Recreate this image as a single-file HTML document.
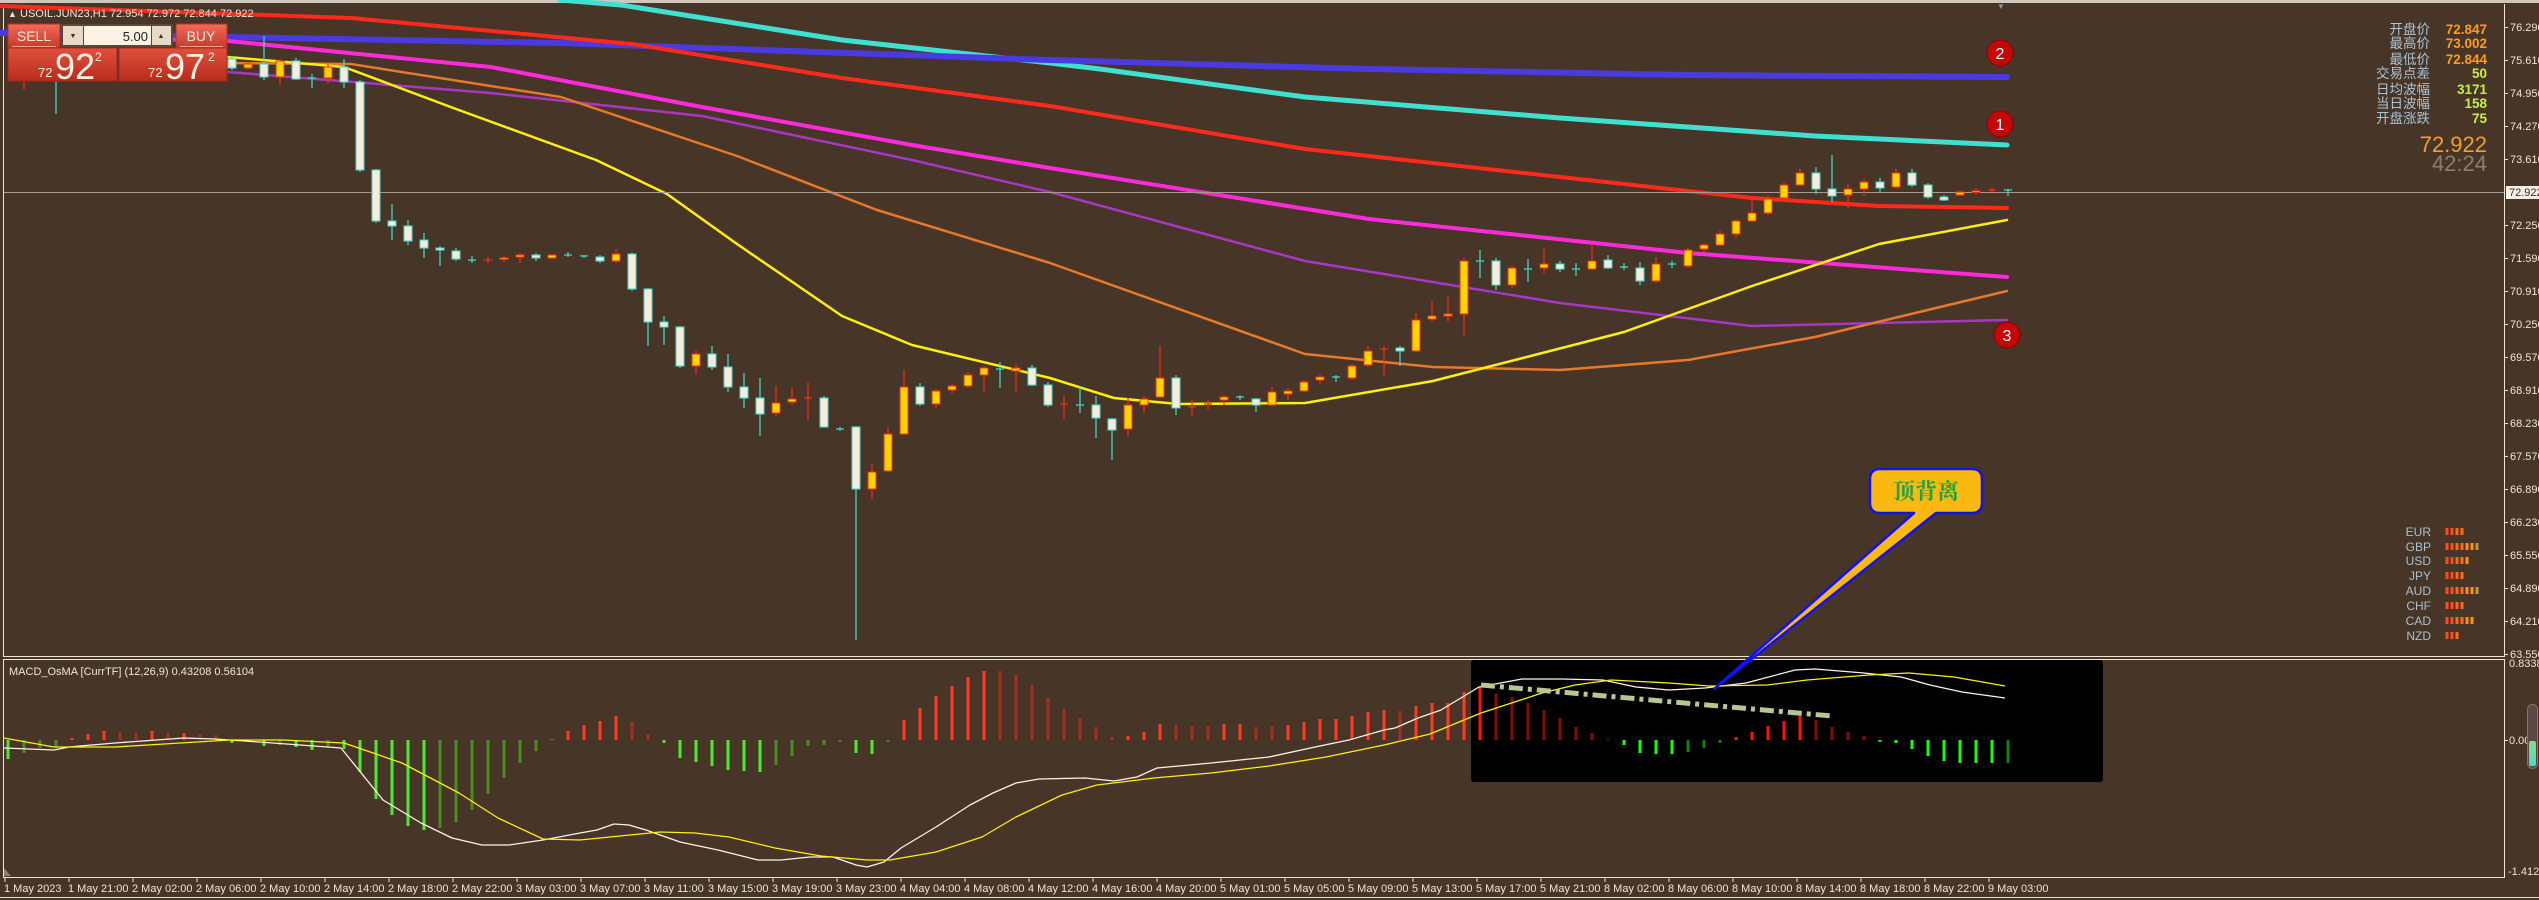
<!DOCTYPE html>
<html><head><meta charset="utf-8"><style>
html,body{margin:0;padding:0;background:#473528;}
svg{display:block;}
text{font-family:"Liberation Sans","Noto Sans CJK SC",sans-serif;}
.ax{font-size:11px;fill:#efe5da;}
.bu rect{fill:#ffd700;stroke:#ff2a10;stroke-width:1}
.be rect{fill:#fbe9dd;stroke:#3ee0d0;stroke-width:1}
</style></head><body>
<svg width="2539" height="900" viewBox="0 0 2539 900" xmlns="http://www.w3.org/2000/svg">
<rect width="2539" height="900" fill="#473528"/>
<rect x="0" y="0" width="2539" height="3" fill="#cfc6bc"/>
<!-- frames -->
<g fill="none" stroke="#f0e4d6" stroke-width="1">
<path d="M3.5 4V656.5H2504.5V4"/>
<path d="M3.5 659.5H2504.5V877.5H3.5Z"/>
</g>
<path d="M0 897.5H2539" stroke="#e8dccf" stroke-width="1"/>
<!-- MA lines -->
<g fill="none" stroke-linejoin="round" stroke-linecap="round">
<polyline stroke="#40e0d0" stroke-width="5" points="560,0 621,5 842,40 1050,63 1100,69 1305,97 1560,118 1815,136 2007,145"/>
<polyline stroke="#4a3ae0" stroke-width="6" points="0,33 228,37 561,43 1050,60 1369,69 1688,75 2007,77"/>
<polyline stroke="#ff2a1a" stroke-width="4" points="0,6 351,18 632,44 842,78 1050,106 1305,149 1560,177 1752,198 1879,206 2007,208"/>
<polyline stroke="#ff2ad8" stroke-width="4" points="100,38 228,41 491,67 702,107 912,145 1050,168 1369,219 1688,253 2007,277"/>
<polyline stroke="#a838c0" stroke-width="2.5" points="200,70 228,72 491,93 702,116 912,160 1050,192 1305,261 1560,303 1752,326 2007,320"/>
<polyline stroke="#e8782a" stroke-width="2.5" points="200,62 228,63 351,64 561,97 737,156 877,210 1050,263 1305,354 1433,367 1560,370 1688,360 1815,337 2007,291"/>
<polyline stroke="#ffee10" stroke-width="2.5" points="200,56 228,57 344,67 456,109 596,160 667,194 737,244 842,316 912,345 1050,378 1114,398 1178,404 1305,403 1433,381 1624,332 1752,286 1879,244 2007,220"/>
</g>
<path d="M4 192.5H2504" stroke="#a89a8e" stroke-width="1"/>
<!-- wicks -->
<path stroke="#ff2a10" stroke-width="1.2" fill="none" d="M24 80V90M248 62V70M280 59V85M328 64V84M504 255V262M520 253V263M552 254V259M616 249V263M696 350V374M776 386V417M792 388V405M872 463V499M888 427V472M904 370V435M936 389V409M952 384V394M968 372V388M984 366V393M1016 364V391M1128 398V436M1144 396V413M1160 346V398M1224 395V405M1272 387V406M1288 388V400M1304 380V392M1320 374V384M1352 364V380M1368 346V367M1416 313V352M1432 301V322M1448 297V322M1464 258V335M1512 266V288M1544 248V274M1592 243V270M1656 257V283M1688 248V268M1704 243V252M1720 230V246M1736 219V238M1752 200V222M1768 195V215M1784 182V199M1800 169V186M1848 184V208M1864 179V196M1896 169V189M1960 190V196M1976 188V194
M488 257V263M808 382V420M1064 396V419M1192 400V417M1208 399V410M1384 346V375M1992 187V194
M484 260H492M804 398H812M1060 404H1068M1188 407H1196M1204 404H1212M1380 349H1388M1988 190H1996"/>
<path stroke="#3ee0d0" stroke-width="1.2" fill="none" d="M56 80V114M232 56V70M264 36V80M296 58V80M344 59V88M360 80V172M376 169V223M392 204V240M408 220V245M424 233V258M440 246V266M456 248V261M536 253V261M600 255V263M632 253V291M648 288V346M664 316V345M680 326V368M712 346V370M728 354V392M744 373V408M760 378V436M824 396V428M856 426V640M920 383V406M1032 365V386M1048 382V407M1096 396V438M1112 418V460M1176 375V415M1256 398V412M1400 346V366M1496 258V290M1560 261V272M1608 255V269M1640 262V285M1816 167V194M1832 155V202M1880 178V192M1912 169V187M1928 183V199M1944 195V201
M312 74V88M472 256V263M568 252V257M584 255V258M840 427V431M1000 362V388M1080 386V413M1240 395V400M1336 375V382M1480 250V278M1528 259V282M1576 263V276M1624 263V270M1672 261V268M2008 189V196
M308 78H316M468 260H476M564 255H572M580 256H588M836 429H844M996 369H1004M1076 405H1084M1236 397H1244M1332 377H1340M1476 261H1484M1524 269H1532M1572 269H1580M1620 267H1628M1668 264H1676M2004 190H2012"/>
<g class="bu">
<rect x="244" y="64" width="8" height="4"/><rect x="276" y="61" width="8" height="16"/><rect x="324" y="67" width="8" height="11"/><rect x="500" y="258" width="8" height="1.5"/><rect x="516" y="255" width="8" height="2"/><rect x="548" y="255" width="8" height="3"/><rect x="612" y="254" width="8" height="7"/><rect x="692" y="354" width="8" height="12"/><rect x="772" y="403" width="8" height="10"/><rect x="788" y="399" width="8" height="3"/><rect x="868" y="472" width="8" height="17"/><rect x="884" y="434" width="8" height="37"/><rect x="900" y="387" width="8" height="47"/><rect x="932" y="391" width="8" height="13"/><rect x="948" y="386" width="8" height="4"/><rect x="964" y="375" width="8" height="11"/><rect x="980" y="368" width="8" height="7"/><rect x="1012" y="368" width="8" height="3"/><rect x="1124" y="405" width="8" height="24"/><rect x="1140" y="399" width="8" height="6"/><rect x="1156" y="378" width="8" height="19"/><rect x="1220" y="397" width="8" height="3"/><rect x="1268" y="392" width="8" height="13"/><rect x="1284" y="391" width="8" height="3"/><rect x="1300" y="382" width="8" height="9"/><rect x="1316" y="377" width="8" height="3"/><rect x="1348" y="366" width="8" height="12"/><rect x="1364" y="351" width="8" height="14"/><rect x="1412" y="320" width="8" height="31"/><rect x="1428" y="316" width="8" height="3"/><rect x="1444" y="314" width="8" height="2"/><rect x="1460" y="261" width="8" height="53"/><rect x="1508" y="268" width="8" height="17"/><rect x="1540" y="264" width="8" height="4"/><rect x="1588" y="261" width="8" height="8"/><rect x="1652" y="264" width="8" height="17"/><rect x="1684" y="250" width="8" height="16"/><rect x="1700" y="245" width="8" height="4"/><rect x="1716" y="234" width="8" height="11"/><rect x="1732" y="221" width="8" height="13"/><rect x="1748" y="213" width="8" height="8"/><rect x="1764" y="199" width="8" height="14"/><rect x="1780" y="185" width="8" height="13"/><rect x="1796" y="173" width="8" height="12"/><rect x="1844" y="189" width="8" height="6"/><rect x="1860" y="182" width="8" height="7"/><rect x="1892" y="173" width="8" height="14"/><rect x="1956" y="192" width="8" height="3"/><rect x="1972" y="191" width="8" height="1.5"/>
</g>
<g class="be">
<rect x="228" y="59" width="8" height="9"/><rect x="260" y="64" width="8" height="13"/><rect x="292" y="61" width="8" height="18"/><rect x="340" y="67" width="8" height="15"/><rect x="356" y="82" width="8" height="88"/><rect x="372" y="170" width="8" height="51"/><rect x="388" y="221" width="8" height="5"/><rect x="404" y="226" width="8" height="15"/><rect x="420" y="240" width="8" height="8"/><rect x="436" y="248" width="8" height="2"/><rect x="452" y="251" width="8" height="8"/><rect x="532" y="255" width="8" height="3"/><rect x="596" y="257" width="8" height="4"/><rect x="628" y="254" width="8" height="35"/><rect x="644" y="289" width="8" height="33"/><rect x="660" y="322" width="8" height="5"/><rect x="676" y="327" width="8" height="39"/><rect x="708" y="354" width="8" height="13"/><rect x="724" y="367" width="8" height="20"/><rect x="740" y="387" width="8" height="11"/><rect x="756" y="398" width="8" height="16"/><rect x="820" y="398" width="8" height="29"/><rect x="852" y="427" width="8" height="62"/><rect x="916" y="387" width="8" height="17"/><rect x="1028" y="368" width="8" height="17"/><rect x="1044" y="385" width="8" height="20"/><rect x="1092" y="405" width="8" height="13"/><rect x="1108" y="419" width="8" height="11"/><rect x="1172" y="378" width="8" height="30"/><rect x="1252" y="399" width="8" height="6"/><rect x="1396" y="348" width="8" height="3"/><rect x="1492" y="261" width="8" height="24"/><rect x="1556" y="264" width="8" height="5"/><rect x="1604" y="260" width="8" height="8"/><rect x="1636" y="268" width="8" height="13"/><rect x="1812" y="173" width="8" height="16"/><rect x="1828" y="189" width="8" height="7"/><rect x="1876" y="182" width="8" height="6"/><rect x="1908" y="173" width="8" height="12"/><rect x="1924" y="185" width="8" height="12"/><rect x="1940" y="197" width="8" height="3"/>
</g>
<!-- trading panel -->
<text x="8" y="17" font-size="9" fill="#efe5da">▲</text>
<text x="20" y="17" font-size="11" fill="#efe5da">USOIL.JUN23,H1  72.954 72.972 72.844 72.922</text>
<defs>
<linearGradient id="rg" x1="0" y1="0" x2="0" y2="1"><stop offset="0" stop-color="#f06a5a"/><stop offset="1" stop-color="#c83a2a"/></linearGradient>
<linearGradient id="rg2" x1="0" y1="0" x2="0" y2="1"><stop offset="0" stop-color="#e0503e"/><stop offset="1" stop-color="#b82c1c"/></linearGradient>
<linearGradient id="sl" x1="0" y1="0" x2="0" y2="1"><stop offset="0" stop-color="#80e080"/><stop offset="1" stop-color="#50d8c8"/></linearGradient>
</defs>
<rect x="8" y="24" width="52" height="24" fill="url(#rg)" stroke="#b83020"/>
<path d="M12 46.5H56" stroke="#f4a090"/>
<text x="34" y="41" font-size="14" fill="#ffe8d8" text-anchor="middle">SELL</text>
<rect x="61" y="24" width="112" height="23" fill="#5a4838"/>
<rect x="63" y="26" width="20" height="19" fill="#e8d8c6"/>
<rect x="84" y="26" width="67" height="19" fill="#fcf2e6"/>
<rect x="152" y="26" width="19" height="19" fill="#e8d8c6"/>
<text x="73" y="38" font-size="7" fill="#332" text-anchor="middle">▼</text>
<text x="161" y="38" font-size="7" fill="#332" text-anchor="middle">▲</text>
<text x="148" y="41" font-size="13" fill="#2a2018" text-anchor="end">5.00</text>
<rect x="176" y="24" width="51" height="24" fill="url(#rg)" stroke="#b83020"/>
<path d="M180 46.5H223" stroke="#f4a090"/>
<text x="201" y="41" font-size="14" fill="#ffe8d8" text-anchor="middle">BUY</text>
<rect x="8" y="48" width="109" height="33" fill="url(#rg2)" stroke="#a82818"/>
<rect x="119" y="48" width="108" height="33" fill="url(#rg2)" stroke="#a82818"/>
<text x="38" y="77" font-size="13" fill="#fff0e4">72</text>
<text x="55" y="79" font-size="36" fill="#fff0e4">92</text>
<text x="95" y="61" font-size="12" fill="#fff0e4">2</text>
<text x="148" y="77" font-size="13" fill="#fff0e4">72</text>
<text x="165" y="79" font-size="36" fill="#fff0e4">97</text>
<text x="208" y="61" font-size="12" fill="#fff0e4">2</text>
<!-- info panel -->
<g font-size="13.5" text-anchor="end">
<g fill="#a8c4d4"><text x="2430" y="34">开盘价</text><text x="2430" y="48">最高价</text><text x="2430" y="64">最低价</text><text x="2430" y="78">交易点差</text><text x="2430" y="94">日均波幅</text><text x="2430" y="108">当日波幅</text><text x="2430" y="123">开盘涨跌</text></g>
<g font-weight="bold"><text x="2487" y="34" fill="#ff9c1a">72.847</text><text x="2487" y="48" fill="#ff9c1a">73.002</text><text x="2487" y="64" fill="#ff9c1a">72.844</text><text x="2487" y="78" fill="#c8f040">50</text><text x="2487" y="94" fill="#c8f040">3171</text><text x="2487" y="108" fill="#c8f040">158</text><text x="2487" y="123" fill="#c8f040">75</text></g>
<text x="2487" y="152" font-size="22" fill="#f0a030">72.922</text>
<text x="2487" y="171" font-size="22" fill="#8a7e74">42:24</text>
</g>
<text x="2001" y="9" font-size="8" fill="#9a9088" text-anchor="middle">▼</text>
<!-- markers -->
<g font-family="Liberation Serif,serif" font-size="16" fill="#fff" text-anchor="middle">
<circle cx="2000" cy="53" r="13" fill="#c40808" stroke="#8a0000"/><text x="2000" y="59">2</text>
<circle cx="2000" cy="124" r="13" fill="#c40808" stroke="#8a0000"/><text x="2000" y="130">1</text>
<circle cx="2007" cy="335" r="13" fill="#c40808" stroke="#8a0000"/><text x="2007" y="341">3</text>
</g>
<!-- currency strength -->
<g font-size="12" fill="#a8c0d0" text-anchor="end">
<text x="2431" y="536">EUR</text><text x="2431" y="551">GBP</text><text x="2431" y="565">USD</text><text x="2431" y="580">JPY</text><text x="2431" y="595">AUD</text><text x="2431" y="610">CHF</text><text x="2431" y="625">CAD</text><text x="2431" y="640">NZD</text>
</g>
<g>
<path stroke-width="3" fill="none" stroke="#ff4a1a" d="M2447 528V535M2447 543V550M2447 557V564M2447 572V579M2447 587V594M2447 602V609M2447 617V624M2447 632V639M2452 528V535M2452 543V550M2452 557V564M2452 572V579M2452 587V594M2452 602V609M2452 617V624M2452 632V639"/>
<path stroke-width="3" fill="none" stroke="#ff6a10" d="M2457 528V535M2457 543V550M2457 557V564M2457 572V579M2457 587V594M2457 602V609M2457 617V624M2457 632V639M2462 528V535M2462 543V550M2462 557V564M2462 572V579M2462 587V594M2462 602V609M2462 617V624"/>
<path stroke-width="3" fill="none" stroke="#ff9010" d="M2467 543V550M2467 557V564M2467 587V594M2467 617V624M2472 543V550M2472 587V594M2472 617V624"/>
<path stroke-width="3" fill="none" stroke="#b8a020" d="M2477 543V550M2477 587V594"/>
</g>
<!-- right axis main -->
<g class="ax">
<path stroke="#efe5da" d="M2504 27.5H2508M2504 60.5H2508M2504 93.5H2508M2504 126.5H2508M2504 159.5H2508M2504 225.5H2508M2504 258.5H2508M2504 291.5H2508M2504 324.5H2508M2504 357.5H2508M2504 390.5H2508M2504 423.5H2508M2504 456.5H2508M2504 489.5H2508M2504 522.5H2508M2504 555.5H2508M2504 588.5H2508M2504 621.5H2508M2504 654.5H2508M2504 740.5H2508"/>
<text x="2510" y="31">76.290</text><text x="2510" y="64">75.610</text><text x="2510" y="97">74.950</text><text x="2510" y="130">74.270</text><text x="2510" y="163">73.610</text>
<text x="2510" y="229">72.250</text><text x="2510" y="262">71.590</text><text x="2510" y="295">70.910</text><text x="2510" y="328">70.250</text><text x="2510" y="361">69.570</text><text x="2510" y="394">68.910</text><text x="2510" y="427">68.230</text><text x="2510" y="460">67.570</text><text x="2510" y="493">66.890</text><text x="2510" y="526">66.230</text><text x="2510" y="559">65.550</text><text x="2510" y="592">64.890</text><text x="2510" y="625">64.210</text><text x="2510" y="658">63.550</text>
<text x="2509" y="667">0.83387</text><text x="2509" y="744">0.00</text><text x="2508" y="875">-1.4123</text>
</g>
<rect x="2506" y="186" width="33" height="13" fill="#f8efe6"/>
<text x="2509" y="196" font-size="11" fill="#3a2a20">72.922</text>
<rect x="2527.5" y="704.5" width="10" height="64" rx="5" fill="#5a4848" stroke="#8a7262"/>
<rect x="2529" y="741" width="7" height="25" rx="2" fill="url(#sl)"/>
<!-- MACD subwindow -->
<rect x="1471" y="660" width="632" height="122" rx="3" fill="#000"/>
<text x="9" y="675" font-size="11" fill="#efe5da">MACD_OsMA [CurrTF] (12,26,9) 0.43208 0.56104</text>
<g stroke-width="3" fill="none">
<path stroke="#ff3a20" d="M72 740V738M88 740V734M104 740V731M152 740V731M184 740V733M552 740V739M568 740V731M584 740V725M600 740V721M616 740V716M904 740V720M920 740V708M936 740V696M952 740V686M968 740V677M984 740V671M1128 740V736M1144 740V732M1160 740V724M1224 740V724M1240 740V724M1288 740V725M1304 740V722M1320 740V719M1336 740V719M1352 740V716M1368 740V712M1384 740V710M1416 740V706M1432 740V703M1448 740V703M1464 740V692"/>
<path stroke="#a8301c" d="M120 740V732M136 740V733M168 740V733M200 740V734M216 740V735M632 740V722M648 740V734M1000 740V671M1016 740V675M1032 740V685M1048 740V698M1064 740V709M1080 740V718M1096 740V727M1112 740V737M1176 740V725M1192 740V726M1208 740V726M1256 740V727M1272 740V726M1400 740V711"/>
<path stroke="#4ee832" d="M8 740V759M232 740V743M248 740V742M264 740V746M296 740V747M312 740V750M344 740V749M360 740V772M376 740V799M392 740V815M408 740V826M424 740V830M664 740V743M680 740V758M696 740V762M712 740V766M728 740V770M744 740V771M760 740V772M856 740V753M872 740V754"/>
<path stroke="#4a8a22" d="M24 740V753M40 740V748M56 740V747M280 740V745M328 740V747M440 740V828M456 740V822M472 740V810M488 740V794M504 740V778M520 740V763M536 740V751M776 740V765M792 740V756M808 740V746M824 740V745M840 740V742M888 740V742"/>
<path stroke="#ff1010" d="M1480 740V687M1736 740V737M1752 740V732M1768 740V726M1784 740V721M1800 740V716"/>
<path stroke="#8b0a0a" d="M1496 740V694M1512 740V697M1528 740V703M1544 740V710M1560 740V718M1576 740V727M1592 740V733M1608 740V739M1816 740V720M1832 740V727M1848 740V732M1864 740V736"/>
<path stroke="#10ff10" d="M1624 740V745M1640 740V753M1656 740V754M1672 740V754M1880 740V742M1896 740V743M1912 740V749M1928 740V756M1944 740V761M1960 740V763M1976 740V763M1992 740V763"/>
<path stroke="#108010" d="M1688 740V752M1704 740V748M1720 740V743M2008 740V763"/>
</g>
<g fill="none" stroke-width="1.3" stroke-linejoin="round">
<polyline stroke="#fff2e8" points="4,748 54,750 69,747 115,743 184,738 214,739 245,741 341,748 383,800 421,823 452,838 482,845 509,845 543,840 580,833 597,830 614,824 629,825 646,830 680,842 718,850 758,860 781,860 810,857 833,857 856,865 867,867 884,862 901,848 936,827 970,805 993,793 1016,783 1039,779 1085,778 1114,781 1137,777 1157,768 1211,763 1269,757 1315,747 1349,740 1384,730 1395,728 1418,718 1441,710 1479,687 1522,679 1562,679 1603,680 1636,687 1669,690 1705,688 1746,683 1795,670 1815,669 1864,673 1901,677 1930,685 1962,692 2005,698"/>
<polyline stroke="#ffee10" points="4,738 54,747 115,747 230,740 283,740 344,743 402,763 459,793 498,818 543,839 580,840 660,832 695,833 729,837 775,848 821,856 867,860 890,860 936,852 982,837 1016,817 1062,795 1097,785 1154,778 1211,773 1269,766 1326,757 1384,745 1430,734 1481,713 1542,693 1575,685 1611,680 1669,683 1709,686 1767,685 1807,680 1869,675 1909,673 1954,677 2005,686"/>
</g>
<path d="M1481 685L1832 716" stroke="#b5c98e" stroke-width="5" stroke-dasharray="14 5 4 5" fill="none"/>
<!-- callout -->
<path d="M1880 469H1972Q1982 469 1982 479V503Q1982 513 1972 513H1936L1714 689L1914 513H1880Q1870 513 1870 503V479Q1870 469 1880 469Z" fill="#fbb90f" stroke="#1010ff" stroke-width="2.5" stroke-linejoin="round"/>
<text x="1926" y="499" font-size="22" font-weight="bold" fill="#20a040" text-anchor="middle" style="font-family:'Liberation Serif','Noto Serif CJK SC',serif">顶背离</text>
<!-- time axis -->
<path stroke="#efe5da" fill="none" d="M5 878V882M69 878V882M133 878V882M197 878V882M261 878V882M325 878V882M389 878V882M453 878V882M517 878V882M581 878V882M645 878V882M709 878V882M773 878V882M837 878V882M901 878V882M965 878V882M1029 878V882M1093 878V882M1157 878V882M1221 878V882M1285 878V882M1349 878V882M1413 878V882M1477 878V882M1541 878V882M1605 878V882M1669 878V882M1733 878V882M1797 878V882M1861 878V882M1925 878V882M1989 878V882"/>
<path d="M4 868L4 876L11 876Z" fill="#8a8078"/>
<g class="ax">
<text x="4" y="892">1 May 2023</text><text x="68" y="892">1 May 21:00</text><text x="132" y="892">2 May 02:00</text><text x="196" y="892">2 May 06:00</text><text x="260" y="892">2 May 10:00</text><text x="324" y="892">2 May 14:00</text><text x="388" y="892">2 May 18:00</text><text x="452" y="892">2 May 22:00</text><text x="516" y="892">3 May 03:00</text><text x="580" y="892">3 May 07:00</text><text x="644" y="892">3 May 11:00</text><text x="708" y="892">3 May 15:00</text><text x="772" y="892">3 May 19:00</text><text x="836" y="892">3 May 23:00</text><text x="900" y="892">4 May 04:00</text><text x="964" y="892">4 May 08:00</text><text x="1028" y="892">4 May 12:00</text><text x="1092" y="892">4 May 16:00</text><text x="1156" y="892">4 May 20:00</text><text x="1220" y="892">5 May 01:00</text><text x="1284" y="892">5 May 05:00</text><text x="1348" y="892">5 May 09:00</text><text x="1412" y="892">5 May 13:00</text><text x="1476" y="892">5 May 17:00</text><text x="1540" y="892">5 May 21:00</text><text x="1604" y="892">8 May 02:00</text><text x="1668" y="892">8 May 06:00</text><text x="1732" y="892">8 May 10:00</text><text x="1796" y="892">8 May 14:00</text><text x="1860" y="892">8 May 18:00</text><text x="1924" y="892">8 May 22:00</text><text x="1988" y="892">9 May 03:00</text>
</g>
</svg>
</body></html>
